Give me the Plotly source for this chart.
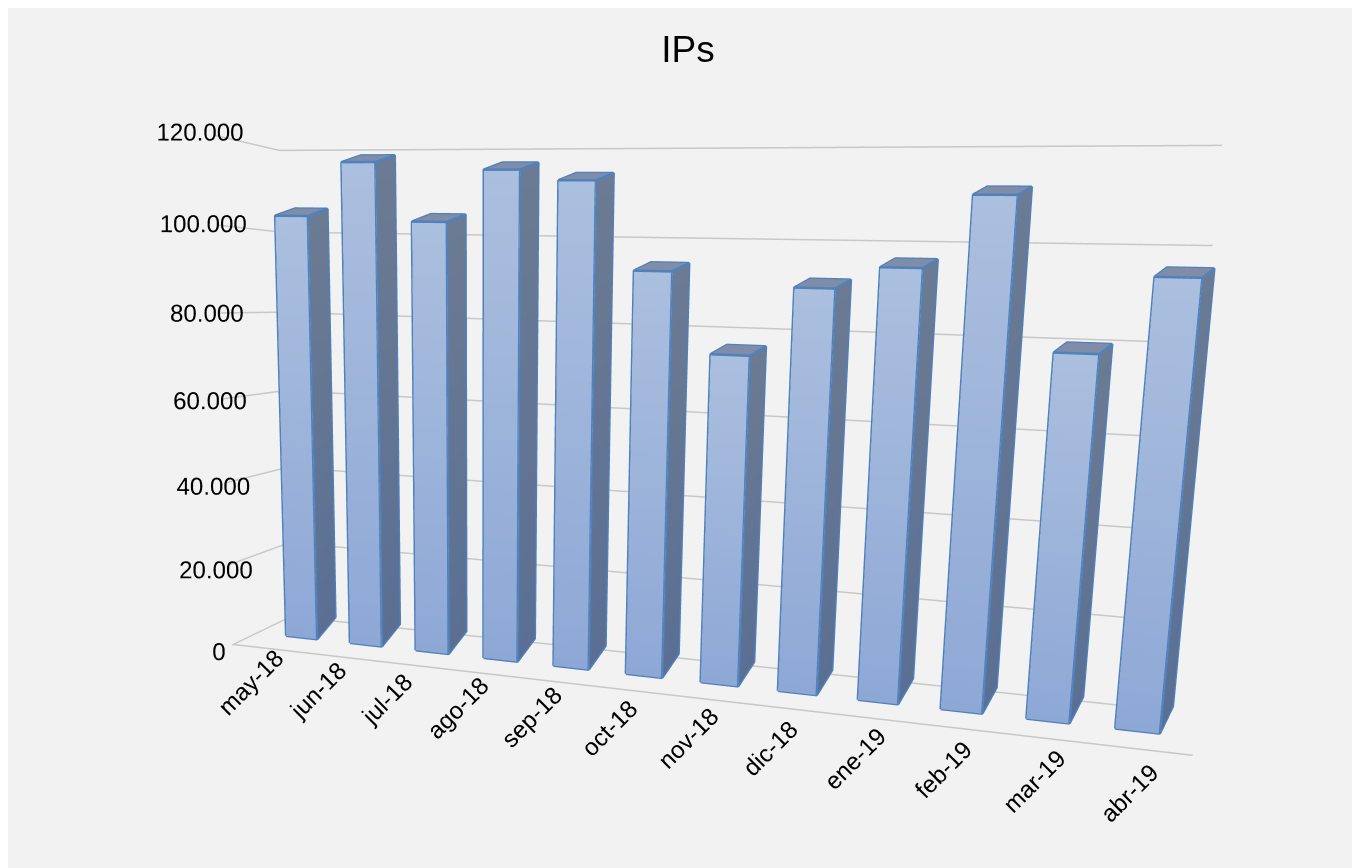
import plotly.graph_objects as go

months = ["may-18","jun-18","jul-18","ago-18","sep-18","oct-18","nov-18","dic-18","ene-19","feb-19","mar-19","abr-19"]
ips = [103000,115300,102000,113600,111300,92000,74400,89200,93800,108600,77500,93000]
value_ticks = [0,20000,40000,60000,80000,100000,120000]
value_labels = ["0","20.000","40.000","60.000","80.000","100.000","120.000"]

HALF_W = 0.245
Y_FRONT, Y_BACK = -0.085, 0.07
SHEAR_X = 0.16      # oblique offset of the back of a bar
RISE_TOP = 2000
RISE_BOT = 4800
TICK_SHIFT = 0.20   # category labels sit left of the bar centre
Z_LOW = -7000       # room below the floor so the category labels hang lower
X_RANGE = [-0.7, 11.5]
Y_RANGE = [-0.5, 0.5]
EDGE = "#4f81bd"
GRID = "#c8c8c8"
FRONT_TOP, FRONT_BOT = "#abbfde", "#8ea8d6"
SIDE_TOP, SIDE_BOT = "#6c7b93", "#5a6f93"
TOP = "#7f8da8"

X, Y, Z, I, J, K, C = [], [], [], [], [], [], []
ex, ey, ez = [], [], []

def quad(pts, cols):
    n = len(X)
    for p, c in zip(pts, cols):
        X.append(p[0]); Y.append(p[1]); Z.append(p[2]); C.append(c)
    I.extend([n, n]); J.extend([n+1, n+2]); K.extend([n+2, n+3])

def edge(pts):
    for p in pts:
        ex.append(p[0]); ey.append(p[1]); ez.append(p[2])
    ex.append(None); ey.append(None); ez.append(None)

for i, v in enumerate(ips):
    x0, x1 = i - HALF_W, i + HALF_W
    fbl, fbr, ftr, ftl = (x0,Y_FRONT,0), (x1,Y_FRONT,0), (x1,Y_FRONT,v), (x0,Y_FRONT,v)
    bbr = (x1+SHEAR_X, Y_BACK, RISE_BOT)
    btr = (x1+SHEAR_X, Y_BACK, v+RISE_TOP)
    btl = (x0+SHEAR_X, Y_BACK, v+RISE_TOP)
    quad([fbl,fbr,ftr,ftl], [FRONT_BOT,FRONT_BOT,FRONT_TOP,FRONT_TOP])
    quad([fbr,bbr,btr,ftr], [SIDE_BOT,SIDE_BOT,SIDE_TOP,SIDE_TOP])
    quad([ftl,ftr,btr,btl], [TOP]*4)
    edge([fbl,fbr,ftr,ftl,fbl])
    edge([fbr,bbr,btr,ftr])
    edge([ftl,btl,btr])

fig = go.Figure()
fig.add_trace(go.Mesh3d(x=X, y=Y, z=Z, i=I, j=J, k=K, vertexcolor=C, flatshading=True,
                        lighting=dict(ambient=1, diffuse=0, specular=0, roughness=1, fresnel=0),
                        hoverinfo="skip", showscale=False))
fig.add_trace(go.Scatter3d(x=ex, y=ey, z=ez, mode="lines", line=dict(color=EDGE, width=5),
                           hoverinfo="skip", showlegend=False))
fig.add_trace(go.Scatter3d(x=[X_RANGE[0] + 0.02, X_RANGE[1] - 0.02], y=[Y_RANGE[0] + 0.01] * 2, z=[100, 100],
                           mode="lines", line=dict(color=GRID, width=3), hoverinfo="skip", showlegend=False))

fig.update_layout(
    width=1360, height=868, margin=dict(l=0, r=0, t=0, b=0),
    paper_bgcolor="#f2f2f2", showlegend=False,
    font=dict(family="Liberation Sans", color="#000000"),
    title=dict(text="IPs", x=0.5, xanchor="center", y=0.9525, yanchor="middle",
               font=dict(size=37, family="Liberation Sans", color="#000000")),
    scene=dict(
        domain=dict(x=[0,1], y=[0,1]),
        bgcolor="#f2f2f2",
        dragmode="orbit",
        aspectmode="manual", aspectratio=dict(x=1.791, y=0.20, z=1.053),
        camera=dict(eye=dict(x=0.446, y=-1.87, z=0.249), center=dict(x=0.011, y=0, z=-0.016),
                    up=dict(x=-0.028, y=0, z=1), projection=dict(type="perspective")),
        xaxis=dict(range=X_RANGE, tickvals=[i - TICK_SHIFT for i in range(len(months))],
                   ticktext=months,
                   tickangle=-45, tickfont=dict(size=17), title=dict(text=""), showgrid=False,
                   showline=False, zeroline=False,
                   ticks="", showbackground=False, showspikes=False),
        yaxis=dict(range=Y_RANGE, showticklabels=False, title=dict(text=""), showgrid=False,
                   showline=False, zeroline=False, ticks="",
                   showbackground=False, showspikes=False),
        zaxis=dict(range=[Z_LOW, 120000], tickvals=value_ticks, ticktext=value_labels, tickangle=0,
                   tickfont=dict(size=17), title=dict(text=""), showgrid=True, gridcolor=GRID,
                   gridwidth=3, showline=False, zeroline=False,
                   ticks="", showbackground=False, showspikes=False),
    ),
)
fig.write_html("out.html")
